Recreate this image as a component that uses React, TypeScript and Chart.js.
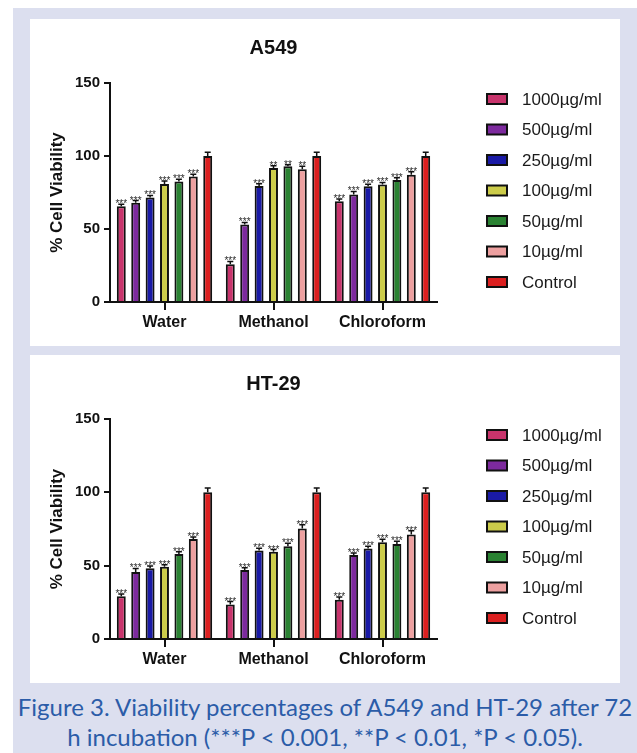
import React, { useEffect, useRef } from "react";
import { Chart, registerables } from "chart.js";
Chart.register(...registerables);

// ---------- data ----------
const categories = ["Water", "Methanol", "Chloroform"];
const doseLabels = ["1000µg/ml", "500µg/ml", "250µg/ml", "100µg/ml", "50µg/ml", "10µg/ml", "Control"];
const doseColors = ["#c8346c", "#7d2a9e", "#1a1aa6", "#cccc4a", "#2a8232", "#eda0a0", "#dc2020"];
const yTicks = [0, 50, 100, 150];

// A549 values (% viability) per dose across Water, Methanol, Chloroform
const a549_1000 = [65.5, 25.8, 69.0];
const a549_500 = [68.0, 53.0, 73.7];
const a549_250 = [71.5, 79.5, 79.2];
const a549_100 = [80.8, 91.8, 80.4];
const a549_50 = [82.6, 93.0, 83.6];
const a549_10 = [86.0, 91.0, 87.2];
const a549_ctrl = [100, 100, 100];

const a549Err_1000 = [1.5, 2.0, 1.5];
const a549Err_500 = [1.5, 1.5, 2.0];
const a549Err_250 = [1.5, 1.5, 1.5];
const a549Err_100 = [2.0, 1.5, 1.5];
const a549Err_50 = [1.5, 1.0, 1.5];
const a549Err_10 = [1.5, 2.0, 2.0];
const a549Err_ctrl = [2.5, 2.5, 2.5];

const a549Sig_1000 = ["***", "***", "***"];
const a549Sig_500 = ["***", "***", "***"];
const a549Sig_250 = ["***", "***", "***"];
const a549Sig_100 = ["***", "**", "***"];
const a549Sig_50 = ["***", "**", "***"];
const a549Sig_10 = ["***", "**", "***"];
const a549Sig_ctrl = ["", "", ""];

// HT-29 values
const ht29_1000 = [29.2, 23.5, 26.7];
const ht29_500 = [45.6, 47.0, 57.2];
const ht29_250 = [48.3, 60.4, 61.7];
const ht29_100 = [49.2, 59.5, 66.0];
const ht29_50 = [58.0, 63.3, 64.7];
const ht29_10 = [68.1, 75.4, 71.3];
const ht29_ctrl = [100, 100, 100];

const ht29Err_1000 = [1.5, 2.0, 2.0];
const ht29Err_500 = [2.5, 1.5, 1.5];
const ht29Err_250 = [1.5, 1.5, 1.5];
const ht29Err_100 = [1.5, 1.5, 2.0];
const ht29Err_50 = [1.5, 2.0, 2.0];
const ht29Err_10 = [1.5, 2.5, 2.5];
const ht29Err_ctrl = [3.0, 3.0, 3.0];

const ht29Sig_1000 = ["***", "***", "***"];
const ht29Sig_500 = ["***", "***", "***"];
const ht29Sig_250 = ["***", "***", "***"];
const ht29Sig_100 = ["***", "***", "***"];
const ht29Sig_50 = ["***", "***", "***"];
const ht29Sig_10 = ["***", "***", "***"];
const ht29Sig_ctrl = ["", "", ""];

const a549Values = [a549_1000, a549_500, a549_250, a549_100, a549_50, a549_10, a549_ctrl];
const a549Errors = [a549Err_1000, a549Err_500, a549Err_250, a549Err_100, a549Err_50, a549Err_10, a549Err_ctrl];
const a549Sig = [a549Sig_1000, a549Sig_500, a549Sig_250, a549Sig_100, a549Sig_50, a549Sig_10, a549Sig_ctrl];
const ht29Values = [ht29_1000, ht29_500, ht29_250, ht29_100, ht29_50, ht29_10, ht29_ctrl];
const ht29Errors = [ht29Err_1000, ht29Err_500, ht29Err_250, ht29Err_100, ht29Err_50, ht29Err_10, ht29Err_ctrl];
const ht29Sig = [ht29Sig_1000, ht29Sig_500, ht29Sig_250, ht29Sig_100, ht29Sig_50, ht29Sig_10, ht29Sig_ctrl];

const FONT = "'Liberation Sans', Arial, Helvetica, sans-serif";
const INK = "#111111";

type PanelProps = {
  title: string;
  values: number[][];
  errors: number[][];
  sig: string[][];
  width: number;
  height: number;
};

function BarPanel({ title, values, errors, sig, width, height }: PanelProps) {
  const ref = useRef<HTMLCanvasElement>(null);
  useEffect(() => {
    const canvas = ref.current;
    if (!canvas) return;
    const extras = {
      id: "extras",
      afterDatasetsDraw(chart: any) {
        const ctx = chart.ctx;
        const ys = chart.scales.y;
        ctx.save();
        chart.data.datasets.forEach((ds: any, i: number) => {
          const meta = chart.getDatasetMeta(i);
          meta.data.forEach((bar: any, j: number) => {
            const v = ds.data[j];
            const e = errors[i][j];
            const yBar = ys.getPixelForValue(v);
            const yTop = ys.getPixelForValue(v + e);
            ctx.strokeStyle = INK;
            ctx.lineWidth = 1.5;
            ctx.beginPath();
            ctx.moveTo(bar.x, yBar);
            ctx.lineTo(bar.x, yTop);
            ctx.moveTo(bar.x - 3, yTop);
            ctx.lineTo(bar.x + 3, yTop);
            ctx.stroke();
            const s = sig[i][j];
            if (s) {
              ctx.fillStyle = "#2a2a2a";
              ctx.font = `10px ${FONT}`;
              ctx.textAlign = "center";
              ctx.textBaseline = "alphabetic";
              ctx.fillText(s, bar.x, yTop + 3);
            }
          });
        });
        ctx.restore();
      },
      afterDraw(chart: any) {
        const ctx = chart.ctx;
        const ca = chart.chartArea;
        ctx.save();
        // title
        ctx.fillStyle = INK;
        ctx.font = `bold 20px ${FONT}`;
        ctx.textAlign = "center";
        ctx.textBaseline = "middle";
        ctx.fillText(title, (ca.left + ca.right) / 2, 29);
        // legend
        chart.data.datasets.forEach((ds: any, i: number) => {
          const cy = 80 + i * 30.5;
          ctx.fillStyle = ds.backgroundColor;
          ctx.fillRect(457, cy - 5, 20, 10);
          ctx.strokeStyle = INK;
          ctx.lineWidth = 2;
          ctx.strokeRect(457, cy - 5, 20, 10);
          ctx.fillStyle = "#1a1a1a";
          ctx.font = `17px ${FONT}`;
          ctx.textAlign = "left";
          ctx.textBaseline = "middle";
          ctx.fillText(ds.label, 492, cy + 1);
        });
        ctx.restore();
      },
    };
    const chart = new Chart(canvas, {
      type: "bar",
      data: {
        labels: categories,
        datasets: doseLabels.map((label, i) => ({
          label,
          data: values[i],
          backgroundColor: doseColors[i],
          borderColor: INK,
          borderWidth: 2,
          categoryPercentage: 0.925,
          barPercentage: 0.62,
        })),
      },
      options: {
        responsive: false,
        animation: false,
        devicePixelRatio: 1,
        layout: { padding: { top: 64, left: 0, right: width - 407, bottom: 0 } },
        plugins: {
          legend: { display: false },
          title: { display: false },
          tooltip: { enabled: false },
        },
        scales: {
          x: {
            afterFit: (scale: any) => {
              scale.height = 44;
            },
            grid: {
              offset: false,
              drawOnChartArea: false,
              drawTicks: true,
              tickLength: 8,
              color: INK,
              lineWidth: 2,
            },
            border: { display: true, color: INK, width: 2 },
            ticks: { color: INK, padding: 3, font: { family: FONT, size: 16, weight: "bold" } },
          },
          y: {
            min: 0,
            max: 150,
            afterFit: (scale: any) => {
              scale.width = 80;
            },
            afterBuildTicks: (scale: any) => {
              scale.ticks = yTicks.map((v) => ({ value: v }));
            },
            grid: {
              drawOnChartArea: false,
              drawTicks: true,
              tickLength: 6,
              color: INK,
              lineWidth: 2,
            },
            border: { display: true, color: INK, width: 2 },
            ticks: { color: INK, padding: 4, font: { family: FONT, size: 15, weight: "bold" } },
            title: {
              display: true,
              text: "% Cell Viability",
              color: INK,
              padding: { top: 17, bottom: 0 },
              font: { family: FONT, size: 17, weight: "bold" },
            },
          },
        },
      } as any,
      plugins: [extras as any],
    });
    return () => chart.destroy();
  }, []);
  return <canvas ref={ref} width={width} height={height} style={{ display: "block" }} />;
}

export default function App() {
  return (
    <div
      style={{
        position: "absolute",
        left: 13,
        top: 8,
        width: 624,
        height: 745,
        background: "#dcdfef",
        overflow: "hidden",
      }}
    >
      <div style={{ position: "absolute", left: 17, top: 11, width: 590, height: 327, background: "#fff" }}>
        <BarPanel title="A549" values={a549Values} errors={a549Errors} sig={a549Sig} width={590} height={327} />
      </div>
      <div style={{ position: "absolute", left: 17, top: 347, width: 590, height: 328, background: "#fff" }}>
        <BarPanel title="HT-29" values={ht29Values} errors={ht29Errors} sig={ht29Sig} width={590} height={328} />
      </div>
      <div
        style={{
          position: "absolute",
          left: 0,
          top: 684,
          width: 624,
          textAlign: "center",
          color: "#2b5ca8",
          fontFamily: "Lato, 'Open Sans', sans-serif",
          fontSize: 24,
          lineHeight: "30px",
          whiteSpace: "nowrap",
        }}
      >
        <div>Figure 3. Viability percentages of A549 and HT-29 after 72</div>
        <div>h incubation (***P &lt; 0.001, **P &lt; 0.01, *P &lt; 0.05).</div>
      </div>
    </div>
  );
}
